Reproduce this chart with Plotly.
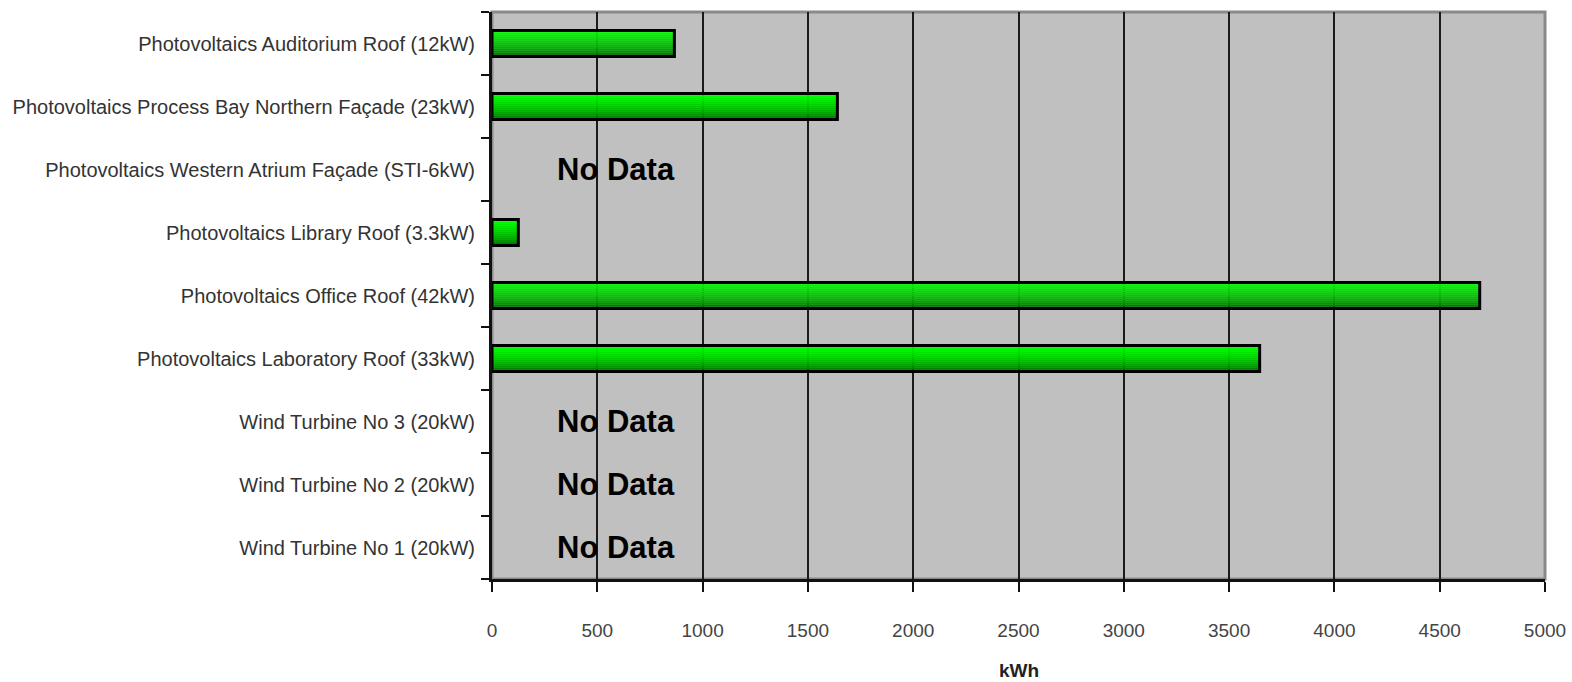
import plotly.graph_objects as go

# Data (bottom to top order)
categories = [
    "Wind Turbine No 1 (20kW)",
    "Wind Turbine No 2 (20kW)",
    "Wind Turbine No 3 (20kW)",
    "Photovoltaics Laboratory Roof (33kW)",
    "Photovoltaics Office Roof (42kW)",
    "Photovoltaics Library Roof (3.3kW)",
    "Photovoltaics Western Atrium Façade (STI-6kW)",
    "Photovoltaics Process Bay Northern Façade (23kW)",
    "Photovoltaics Auditorium Roof (12kW)",
]
values_kwh = [None, None, None, 3645, 4690, 125, None, 1640, 866]
no_data_label = "No Data"
x_ticks = [0, 500, 1000, 1500, 2000, 2500, 3000, 3500, 4000, 4500, 5000]

fig = go.Figure()

# gradient simulated with thin overlaid strips
bar_w = 0.41
n_strips = 13
top_rgb = (0, 255, 0)
bot_rgb = (0, 95, 0)
for k in range(n_strips):
    t = (k / (n_strips - 1)) ** 0.6  # 0 bottom -> 1 top
    r = int(bot_rgb[0] + (top_rgb[0] - bot_rgb[0]) * t)
    g = int(bot_rgb[1] + (top_rgb[1] - bot_rgb[1]) * t)
    b = int(bot_rgb[2] + (top_rgb[2] - bot_rgb[2]) * t)
    fig.add_trace(go.Bar(
        y=categories, x=values_kwh, orientation="h",
        width=bar_w / n_strips * 1.15,
        offset=-bar_w / 2 + k * bar_w / n_strips,
        marker=dict(color=f"rgb({r},{g},{b})", line=dict(width=0)),
        showlegend=False, hoverinfo="skip",
    ))

# outline
fig.add_trace(go.Bar(
    y=categories, x=values_kwh, orientation="h",
    width=bar_w, offset=-bar_w / 2,
    marker=dict(color="rgba(0,0,0,0)", line=dict(color="black", width=3)),
    showlegend=False,
))

for c, v in zip(categories, values_kwh):
    if v is None:
        fig.add_annotation(x=590, y=c, text=no_data_label, showarrow=False,
                           font=dict(family="Liberation Sans, Arial", size=31, color="black", weight="bold"),
                           xanchor="center", yanchor="middle")

fig.add_annotation(x=0.5, y=0, xref="paper", yref="paper", text="<b>kWh</b>", showarrow=False,
                   yshift=-91, yanchor="middle",
                   font=dict(family="Liberation Sans, Arial", size=19, color="#222"))

fig.add_shape(type="rect", xref="paper", yref="paper", x0=0, x1=1, y0=0, y1=1,
              line=dict(color="#8a8a8a", width=3), layer="below")

fig.update_layout(
    width=1572, height=682,
    margin=dict(l=492, r=27, t=12, b=103, autoexpand=False),
    plot_bgcolor="#c0c0c0", paper_bgcolor="white",
    barmode="overlay",
    font=dict(family="Liberation Sans, Arial", size=20, color="#333"),
    xaxis=dict(range=[0, 5000], tickvals=x_ticks, showgrid=True, gridcolor="#1a1a1a", gridwidth=2,
               zeroline=False, showline=True, linecolor="#111", linewidth=3, automargin=False,
               ticks="outside", ticklen=10, tickwidth=2, tickcolor="#111",
               ticklabelstandoff=22, tickfont=dict(size=19, color="#444")),
    yaxis=dict(type="category", categoryorder="array", categoryarray=categories,
               showgrid=False, zeroline=False, showline=True, linecolor="#111", linewidth=3,
               automargin=False,
               ticks="outside", tickson="boundaries", ticklen=8, tickwidth=2, tickcolor="#111",
               ticklabelstandoff=10, tickfont=dict(size=20, color="#333")),
)

fig.write_html("out.html", config={"displayModeBar": False},
               post_script="document.body.style.margin='0';document.body.style.padding='0';")
